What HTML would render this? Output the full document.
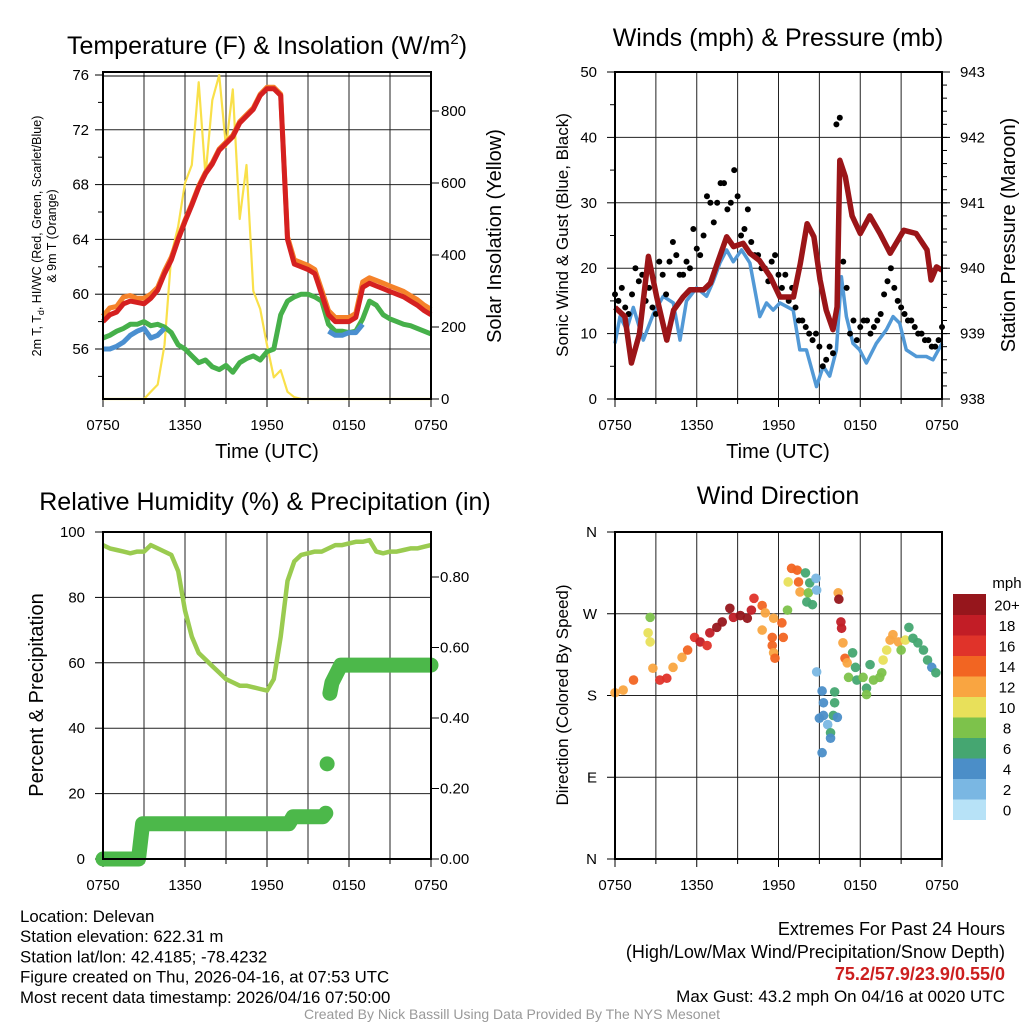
<!DOCTYPE html>
<html><head><meta charset="utf-8">
<style>
body{margin:0;background:#fff;}
svg{display:block;font-family:"Liberation Sans",sans-serif;}
</style></head>
<body>
<svg id="c" width="1024" height="1024" viewBox="0 0 1024 1024"></svg>
<script>
// ---- Panel 1 data (half-hour steps, hours 0..24) ----
const tempRed=[58,58.5,58.7,59.3,59.5,59.4,59.3,59.7,60.3,61.5,62.5,64,65.3,66.5,67.8,68.8,69.5,70.5,71,71.5,72.5,73,73.5,74.5,75,75,74.5,64,62.2,62,61.8,61.5,60,58.5,58,58,58,58.3,60.5,60.8,60.6,60.4,60.2,60,59.8,59.5,59.2,58.8,58.5];
const tempOrangeOffset=[0.4,0.5,0.4,0.5,0.4,0.3,0.4,0.3,0.2,0.2,0.2,0.1,0.1,0.1,0.1,0.1,0.1,0.1,0.1,0.1,0.1,0.1,0.1,0.1,0.1,0.1,0.1,0.2,0.3,0.3,0.3,0.3,0.3,0.3,0.3,0.3,0.3,0.3,0.4,0.4,0.4,0.4,0.4,0.4,0.4,0.4,0.4,0.4,0.4];
const dewGreen=[56.8,57,57.3,57.5,57.8,57.8,58,57.7,57.8,57.6,57.2,56.3,56,55.5,55,55.2,54.7,54.5,54.8,54.3,55,55.3,55.5,55.2,55.8,56,58.5,59.5,59.8,60,60,59.8,59.5,57.8,57.3,57.3,57.2,57.3,58.2,59.5,59.2,58.5,58.2,58,57.8,57.7,57.5,57.3,57.1];
const hiwcBlue=[56,56,56.2,56.5,57,57.3,57.5,56.8,57,57.5,null,null,null,null,null,null,null,null,null,null,null,null,null,null,null,null,null,null,null,null,null,null,null,57.3,57,57,57.2,57.2,57.8,null,null,null,null,null,null,null,null,null,null];
const solar=[0,0,0,0,0,0,0,20,40,150,400,480,600,650,880,620,830,900,700,860,500,650,300,250,150,60,80,20,5,0,0,0,0,0,0,0,0,0,0,0,0,0,0,0,0,0,0,0,0];
const tempTicks=[56,60,64,68,72,76];
const solarTicks=[0,200,400,600,800];
const timeTickLabels=["0750","1350","1950","0150","0750"];
// ---- Panel 2 data ----
const windHours=[0,0.37,0.86,1.34,2.08,2.81,3.54,4.28,4.77,5.25,5.99,6.72,7.21,7.7,8.19,8.68,9.29,9.9,10.63,11.12,11.61,12.1,13.08,13.56,14.05,14.79,15.28,15.76,16.25,16.62,16.98,17.47,17.96,18.45,19.18,19.92,20.41,20.89,21.38,22.12,22.85,23.34,24];
const windSpeed=[8.5,12.6,10.6,14,9,13,15.7,14.7,9,15,17,15.7,18,20.8,22.8,21,22.8,20.8,12.6,14.7,13.6,14.7,13.6,7.5,7.5,1.9,5,3.5,7.5,18.7,12.6,8.5,7.5,5.5,8.5,10.6,12.6,11.6,7.5,6.5,6.5,6,8.5];
const gustA=[16,17,13,20,19,17,13,19,21,22,19,20,23,25,30,30,33,30,31,26,24,22,20,21,19,19,17,12,11,9,8,6,7,43,17,12,11,12,11,13,18,17,14,12,11,10,9,8,11];
const gustB=[15,14,16,18,15,14,21,16,24,19,21,26,22,31,27,33,29,35,25,29,22,20,18,22,17,15,14,12,10,10,5,8,42,21,10,9,12,10,12,16,20,15,13,12,10,9,8,9];
const presHours=[0,0.73,1.2,1.8,2.45,3.06,3.8,4.3,5.0,5.5,6.5,7.0,7.5,8.2,8.7,9.4,9.9,10.6,11.4,12.1,13.1,13.6,14.1,14.6,15.05,15.5,16.0,16.3,16.5,16.9,17.4,18.0,18.7,19.45,20.2,21.2,22.1,22.9,23.2,23.6,24];
const presVals=[939.4,939.26,938.55,939.0,940.18,939.56,938.9,939.36,939.56,939.67,939.67,939.77,940.07,940.48,940.33,940.38,940.23,940.12,939.87,939.56,939.56,940.07,940.68,940.48,939.82,939.36,939.06,939.41,941.65,941.4,940.8,940.53,940.8,940.53,940.23,940.58,940.53,940.28,939.82,940.02,939.97];
const windTicks=[0,10,20,30,40,50];
const presTicks=[938,939,940,941,942,943];
// ---- Panel 3 data ----
const rh=[96,95,94.5,94,93.5,94,94,96,95,94,93,88,76,68,63,61,59,57,55,54,53,53,52.5,52,51.5,55,68,85,91,93,93.5,94,94,95,96,96,96.5,97,97,97.5,94,93.5,94,94,94.5,95,95,95.5,96];
const precipHoursA=[0,2.6,2.9,13.6,13.9,16.1,16.3];
const precipValsA=[0,0,0.1,0.1,0.12,0.12,0.13];
const precipHoursB=[16.6,16.75,17.4,24];
const precipValsB=[0.47,0.5,0.55,0.55];
const precipSingleHour=[16.4];
const precipSingleVal=[0.27];
const rhTicks=[0,20,40,60,80,100];
const precipTicks=[0,0.2,0.4,0.6,0.8];
const precipTickLabels=["0.00","0.20","0.40","0.60","0.80"];
// ---- Panel 4 data ----
const dirHours=[0,0.6,1.36,2.58,2.43,2.58,2.78,3.29,3.8,4.26,4.92,5.33,5.84,6.25,6.76,6.96,7.47,7.87,8.43,8.69,9.2,9.71,10.01,10.2,10.8,11.03,11.64,10.8,11.54,11.54,11.64,11.74,12.25,12.35,12.66,12.71,12.96,13.37,13.47,13.58,13.98,14.29,14.19,14.08,14.49,14.75,14.8,14.8,15.2,15.3,15.3,15.0,15.61,15.82,15.82,15.2,16.12,16.12,16.02,16.32,16.38,16.43,16.58,16.63,16.73,16.88,17.04,17.14,17.44,17.65,17.75,18.21,18.46,18.46,18.72,18.97,19.43,19.58,19.68,19.94,20.19,20.4,20.8,21.0,21.31,21.57,21.87,22.23,22.64,22.94,23.25,23.55];
const dirDeg=[183,186,197,266,249,239,210,197,199,211,222,230,244,239,235,249,255,261,276,266,268,265,274,287,279,271,265,252,244,235,227,221,260,244,274,305,320,318,305,294,315,304,293,283,280,309,296,206,185,172,158,155,148,139,133,117,184,172,158,156,293,286,261,254,238,221,216,200,227,211,197,200,188,181,214,197,200,205,219,230,241,247,239,230,241,255,243,238,230,219,211,205];
const dirSpeed=[12,12,14,8,10,10,12,16,16,12,12,14,16,18,16,18,20,20,20,18,20,20,18,16,14,12,12,12,14,14,12,14,14,14,8,10,14,14,14,12,6,6,8,6,6,2,2,2,4,4,4,4,2,6,4,4,6,6,6,4,12,20,18,18,12,14,12,8,6,6,6,8,6,8,6,8,8,8,10,10,12,12,12,8,10,6,6,6,6,6,4,6];
const dirTickLabels=["N","E","S","W","N"];
const dirTicks=[0,90,180,270,360];
const cbLabels=["0","2","4","6","8","10","12","14","16","18","20+"];
const cbColors=["#b7e2f7","#7ab7e3","#4b8ec8","#45a671","#7dc24b","#e8e05a","#f9a541","#f26522","#e0332a","#c21d26","#96161c"];

const NS="http://www.w3.org/2000/svg";
const svg=document.getElementById('c');
function mk(tag,attrs,parent){const e=document.createElementNS(NS,tag);for(const k in attrs)e.setAttribute(k,attrs[k]);(parent||svg).appendChild(e);return e;}
function txt(s,x,y,size,anchor,parent,extra){const t=mk('text',Object.assign({x:x,y:y,'font-size':size,'text-anchor':anchor||'middle',fill:'#000'},extra||{}),parent);t.textContent=s;return t;}
function lin(a,b,c,d){return v=>c+(v-a)/(b-a)*(d-c);}
function pathOf(xs,ys,fx,fy){let d='',pen=false;for(let i=0;i<xs.length;i++){if(ys[i]===null||ys[i]===undefined){pen=false;continue;}d+=(pen?'L':'M')+fx(xs[i]).toFixed(1)+','+fy(ys[i]).toFixed(1);pen=true;}return d;}
const halfHours=[];for(let i=0;i<=48;i++)halfHours.push(i/2);
const qHours=[];for(let i=0;i<48;i++)qHours.push(i/2+0.25);

function frame(g,x0,x1,y0,y1){
  for(let h=3;h<24;h+=3){const x=x0+h/24*(x1-x0);const l=mk('line',{x1:x,y1:y0,x2:x,y2:y1,stroke:'#222','stroke-width':1},g);}
  for(let h=0;h<=24;h+=3){const x=x0+h/24*(x1-x0);mk('line',{x1:x,y1:y1,x2:x,y2:y1+(h%6==0?8:5),stroke:'#000','stroke-width':1},g);}
  timeTickLabels.forEach((s,i)=>{const t=txt(s,x0+i*6/24*(x1-x0),y1+31,15,'middle',g);});
}
function hgrid(g,x0,x1,y){const l=mk('line',{x1:x0,y1:y,x2:x1,y2:y,stroke:'#222','stroke-width':1},g);}
function border(g,x0,x1,y0,y1){const r=mk('rect',{x:x0,y:y0,width:x1-x0,height:y1-y0,fill:'none',stroke:'#000','stroke-width':2},g);}

// ================= Panel 1 =================
(function(){
  const x0=103,x1=431,y0=72,y1=399;
  const g=mk('g',{});
  const sx=lin(0,24,x0,x1), sy=lin(56,76,349,75), sy2=lin(0,800,399,111);
  frame(g,x0,x1,y0,y1);
  tempTicks.forEach(v=>{if(v<76)hgrid(g,x0,x1,sy(v));mk('line',{x1:x0-8,y1:sy(v),x2:x0,y2:sy(v),stroke:'#000'},g);const t=txt(String(v),x0-14,sy(v)+5,15,'end',g);});
  for(let v=54;v<76;v+=2){if(v%4)mk('line',{x1:x0-5,y1:sy(v),x2:x0,y2:sy(v),stroke:'#000'},g);}
  solarTicks.forEach(v=>{mk('line',{x1:x1,y1:sy2(v),x2:x1+8,y2:sy2(v),stroke:'#000'},g);const t=txt(String(v),x1+10,sy2(v)+5,15,'start',g);});
  mk('line',{x1:x0,y1:76,x2:x1,y2:76,stroke:'#000','stroke-width':1},g);
  let p=mk('path',{d:pathOf(halfHours,solar,sx,sy2),fill:'none',stroke:'#f9e04a','stroke-width':2.2,'stroke-linejoin':'round'},g);
  p=mk('path',{d:pathOf(halfHours,tempRed.map((v,i)=>v+tempOrangeOffset[i]),sx,sy),fill:'none',stroke:'#f5822a','stroke-width':5,'stroke-linejoin':'round'},g);
  p=mk('path',{d:pathOf(halfHours,dewGreen,sx,sy),fill:'none',stroke:'#46b04a','stroke-width':5,'stroke-linejoin':'round'},g);
  p=mk('path',{d:pathOf(halfHours,hiwcBlue,sx,sy),fill:'none',stroke:'#4a8fd0','stroke-width':5,'stroke-linejoin':'round'},g);
  p=mk('path',{d:pathOf(halfHours,tempRed,sx,sy),fill:'none',stroke:'#d52020','stroke-width':5,'stroke-linejoin':'round'},g);
  border(g,x0,x1,y0,y1);
  let t=mk('text',{x:267,y:54,'font-size':25,'text-anchor':'middle'},g);t.innerHTML='Temperature (F) &amp; Insolation (W/m<tspan dy="-10" font-size="15">2</tspan><tspan dy="10">)</tspan>';
  t=txt('Time (UTC)',267,458,20,'middle',g);
  t=mk('text',{x:0,y:0,'font-size':12.5,'text-anchor':'middle',transform:'translate(41,236) rotate(-90)'},g);t.innerHTML='2m T, T<tspan dy="3" font-size="9">d</tspan><tspan dy="-3">, HI/WC (Red, Green, Scarlet/Blue)</tspan>';
  t=txt('& 9m T (Orange)',0,0,12.5,'middle',g,{transform:'translate(56,236) rotate(-90)'});
  t=txt('Solar Insolation (Yellow)',0,0,20,'middle',g,{transform:'translate(501,236) rotate(-90)'});
})();

// ================= Panel 2 =================
(function(){
  const x0=615,x1=942,y0=72,y1=399;
  const g=mk('g',{});
  const sx=lin(0,24,x0,x1), sy=lin(0,50,y1,y0), sy2=lin(938,943,y1,y0);
  frame(g,x0,x1,y0,y1);
  windTicks.forEach(v=>{hgrid(g,x0,x1,sy(v));mk('line',{x1:x0-8,y1:sy(v),x2:x0,y2:sy(v),stroke:'#000'},g);const t=txt(String(v),x0-18,sy(v)+5,15,'end',g);});
  for(let v=5;v<50;v+=10)mk('line',{x1:x0-5,y1:sy(v),x2:x0,y2:sy(v),stroke:'#000'},g);
  presTicks.forEach(v=>{mk('line',{x1:x1,y1:sy2(v),x2:x1+8,y2:sy2(v),stroke:'#000'},g);const t=txt(String(v),x1+18,sy2(v)+5,15,'start',g);});
  for(let v=938.2;v<943;v+=0.2)mk('line',{x1:x1,y1:sy2(v),x2:x1+5,y2:sy2(v),stroke:'#000'},g);
  let p=mk('path',{d:pathOf(windHours,windSpeed,sx,sy),fill:'none',stroke:'#5299d6','stroke-width':3.5,'stroke-linejoin':'round'},g);
  gustA.forEach((v,i)=>{const c=mk('circle',{cx:sx(halfHours[i]),cy:sy(v),r:3,fill:'#000'},g);});
  gustB.forEach((v,i)=>{const c=mk('circle',{cx:sx(qHours[i]),cy:sy(v),r:3,fill:'#000'},g);});
  p=mk('path',{d:pathOf(presHours,presVals,sx,sy2),fill:'none',stroke:'#9b1518','stroke-width':5.5,'stroke-linejoin':'round'},g);
  border(g,x0,x1,y0,y1);
  let t=txt('Winds (mph) & Pressure (mb)',778,46,25,'middle',g);
  t=txt('Time (UTC)',778,458,20,'middle',g);
  t=txt('Sonic Wind & Gust (Blue, Black)',0,0,17,'middle',g,{transform:'translate(568,235) rotate(-90)'});
  t=txt('Station Pressure (Maroon)',0,0,20,'middle',g,{transform:'translate(1015,235) rotate(-90)'});
})();

// ================= Panel 3 =================
(function(){
  const x0=103,x1=431,y0=532,y1=859;
  const g=mk('g',{});
  const sx=lin(0,24,x0,x1), sy=lin(0,100,y1,y0), sy2=lin(0,0.8,y1,577);
  frame(g,x0,x1,y0,y1);
  rhTicks.forEach(v=>{hgrid(g,x0,x1,sy(v));mk('line',{x1:x0-8,y1:sy(v),x2:x0,y2:sy(v),stroke:'#000'},g);const t=txt(String(v),x0-18,sy(v)+5,15,'end',g);});
  precipTicks.forEach((v,i)=>{mk('line',{x1:x1,y1:sy2(v),x2:x1+8,y2:sy2(v),stroke:'#000'},g);const t=txt(precipTickLabels[i],x1+9,sy2(v)+5,15,'start',g);});
  let p=mk('path',{d:pathOf(halfHours,rh,sx,sy),fill:'none',stroke:'#9acb50','stroke-width':4.5,'stroke-linejoin':'round'},g);
  p=mk('path',{d:pathOf(precipHoursA,precipValsA,sx,sy2),fill:'none',stroke:'#4cb84a','stroke-width':15,'stroke-linejoin':'round','stroke-linecap':'round'},g);
  p=mk('path',{d:pathOf(precipHoursB,precipValsB,sx,sy2),fill:'none',stroke:'#4cb84a','stroke-width':15,'stroke-linejoin':'round','stroke-linecap':'round'},g);
  precipSingleHour.forEach((h,i)=>{const c=mk('circle',{cx:sx(h),cy:sy2(precipSingleVal[i]),r:7.5,fill:'#4cb84a'},g);});
  border(g,x0,x1,y0,y1);
  let t=txt('Relative Humidity (%) & Precipitation (in)',265,510,25,'middle',g);
  t=txt('Percent & Precipitation',0,0,20,'middle',g,{transform:'translate(43,695) rotate(-90)'});
})();

// ================= Panel 4 =================
(function(){
  const x0=615,x1=942,y0=532,y1=859;
  const g=mk('g',{});
  const sx=lin(0,24,x0,x1), sy=lin(0,360,y1,y0);
  frame(g,x0,x1,y0,y1);
  dirTicks.forEach((v,i)=>{hgrid(g,x0,x1,sy(v));mk('line',{x1:x0-8,y1:sy(v),x2:x0,y2:sy(v),stroke:'#000'},g);const t=txt(dirTickLabels[i],x0-18,sy(v)+5,15,'end',g);});
  dirHours.forEach((h,i)=>{const c=mk('circle',{cx:sx(h),cy:sy(dirDeg[i]),r:4.8,fill:cbColors[Math.min(10,Math.floor(dirSpeed[i]/2))],'fill-opacity':0.95},g);});
  border(g,x0,x1,y0,y1);
  let t=txt('Wind Direction',778,504,25,'middle',g);
  t=txt('Direction (Colored By Speed)',0,0,17,'middle',g,{transform:'translate(568,695) rotate(-90)'});
  const cb=mk('g',{},g);
  const bx=953,bw=33,bh=20.5,by=594;
  cbColors.forEach((c,i)=>{const r=mk('rect',{x:bx,y:by+(10-i)*bh,width:bw,height:bh+0.5,fill:c},cb);
    const t=txt(cbLabels[i],1007,by+(10-i)*bh+bh/2+6,15,'middle',cb);});
  t=txt('mph',1007,588,15,'middle',cb);
})();

// ================= Footer =================
(function(){
  const g=mk('g',{});
  const left=["Location: Delevan","Station elevation: 622.31 m","Station lat/lon: 42.4185; -78.4232","Figure created on Thu, 2026-04-16, at 07:53 UTC","Most recent data timestamp: 2026/04/16 07:50:00"];
  left.forEach((s,i)=>{const t=txt(s,20,922+i*20.2,16.8,'start',g);});
  let t=txt('Extremes For Past 24 Hours',1005,935,18,'end',g);
  t=txt('(High/Low/Max Wind/Precipitation/Snow Depth)',1005,958,18,'end',g);
  t=txt('75.2/57.9/23.9/0.55/0',1005,980,18,'end',g,{fill:'#cc1f1f','font-weight':'bold'});
  t=txt('Max Gust: 43.2 mph On 04/16 at 0020 UTC',1005,1002,17,'end',g);
  t=txt('Created By Nick Bassill Using Data Provided By The NYS Mesonet',512,1019,14,'middle',g,{fill:'#999'});
})();
</script>
</body></html>
